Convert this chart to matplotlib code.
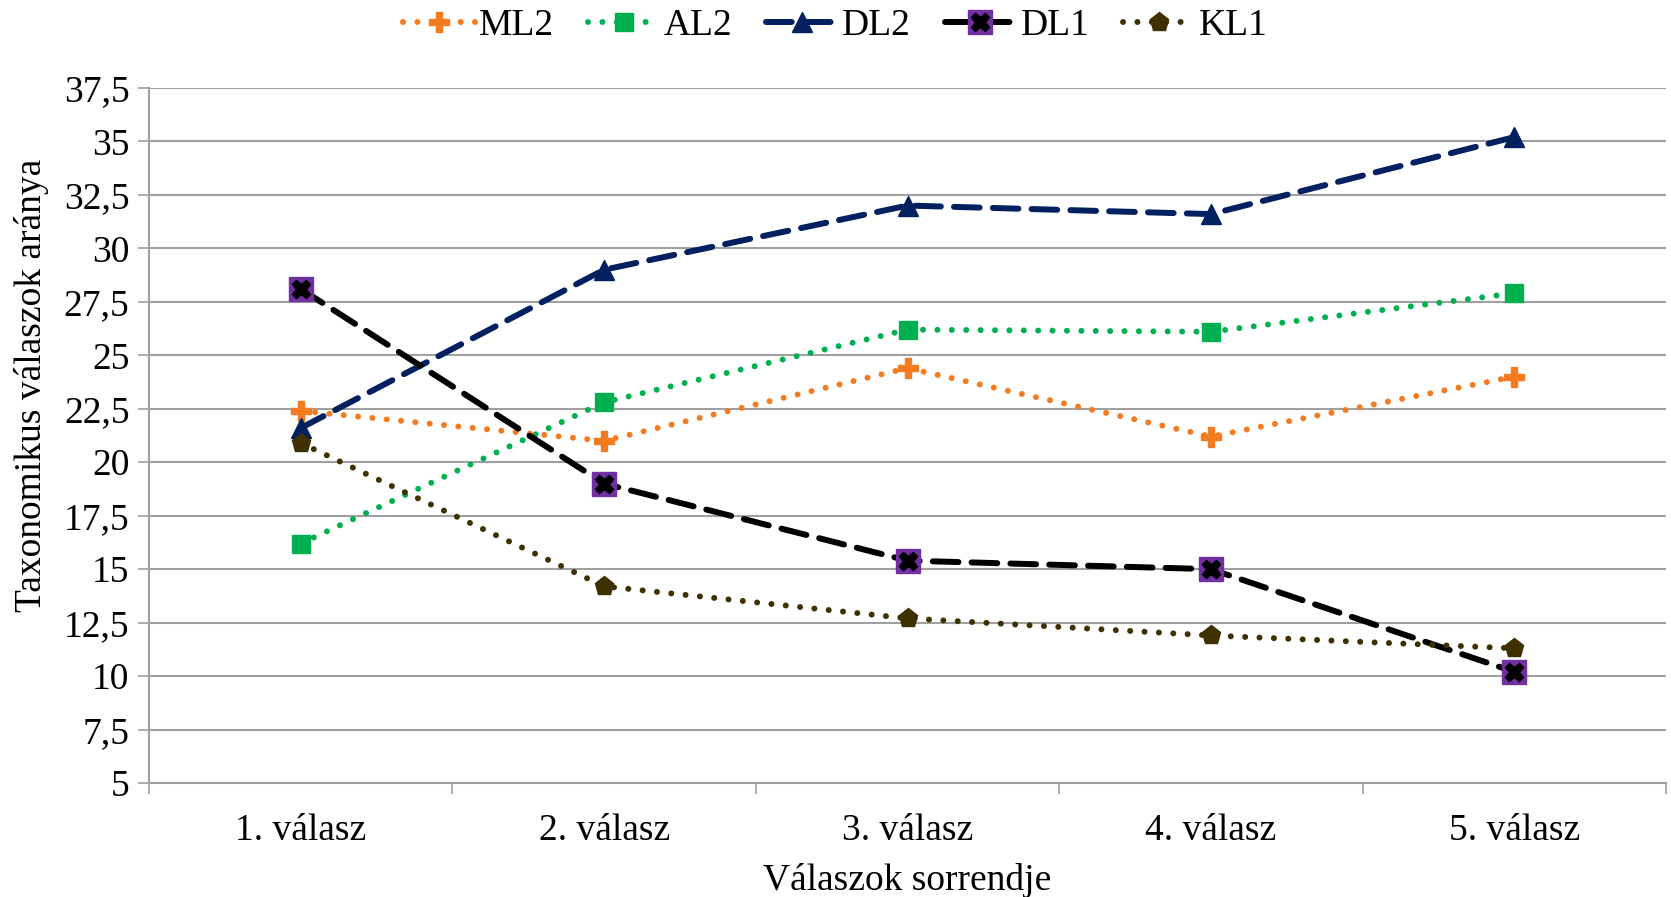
import numpy as np
import matplotlib
matplotlib.use("Agg")
import matplotlib.pyplot as plt
from matplotlib.ticker import FuncFormatter, FixedLocator
from matplotlib.lines import Line2D

# Adatok
categories = ["1. válasz", "2. válasz", "3. válasz", "4. válasz", "5. válasz"]
ml2 = [22.4, 21.0, 24.4, 21.2, 24.0]
al2 = [16.2, 22.8, 26.2, 26.1, 27.9]
dl2 = [21.6, 29.0, 32.0, 31.6, 35.2]
dl1 = [28.1, 19.0, 15.4, 15.0, 10.2]
kl1 = [20.9, 14.2, 12.7, 11.9, 11.3]

plt.rcParams["font.family"] = ["Liberation Serif", "DejaVu Serif"]
FS = 27

fig = plt.figure(figsize=(16.71, 8.97), dpi=100)
ax = fig.add_axes([0.0892, 0.127, 0.9078, 0.775])

x = np.arange(len(categories))
lw = 4.3
dot = (0, (0.01, 2.4))
dash = (0, (4.3, 2.2))

ax.plot(x, ml2, color="#F47B20", linestyle=dot, dash_capstyle="round",
        lw=lw, marker="P", ms=14, mec="#F47B20", zorder=3)
ax.plot(x, al2, color="#00B050", linestyle=dot, dash_capstyle="round",
        lw=lw, marker="s", ms=13, mec="#00B050", zorder=3)
ax.plot(x, dl2, color="#002060", linestyle=dash, dash_capstyle="round",
        lw=lw, marker="^", ms=15, mec="#002060", zorder=3)
ax.plot(x, dl1, color="black", linestyle=dash, dash_capstyle="round",
        lw=lw, zorder=3)
ax.plot(x, dl1, color="#7030A0", linestyle="none", marker="s", ms=17,
        mec="#7030A0", zorder=4)
ax.plot(x, dl1, color="black", linestyle="none", marker="X", ms=13,
        mec="black", zorder=5)
ax.plot(x, kl1, color="#3F3000", linestyle=dot, dash_capstyle="round",
        lw=lw, marker="p", ms=14, mec="#3F3000", zorder=3)

ax.set_xlim(-0.5, len(categories) - 0.5)
ax.set_ylim(5, 37.5)
yt = np.arange(5, 37.6, 2.5)
ax.set_yticks(yt)
ax.yaxis.set_major_formatter(FuncFormatter(
    lambda v, p: (f"{v:.1f}".replace(".", ",") if v % 1 else f"{int(v)}")))
ax.set_xticks(x)
ax.set_xticklabels(categories)
ax.xaxis.set_minor_locator(FixedLocator(np.arange(-0.5, len(categories), 1)))
ax.tick_params(axis="x", which="major", length=0, labelsize=FS, pad=22)
ax.tick_params(axis="x", which="minor", length=8, width=1.2, color="#A0A0A0")
ax.tick_params(axis="y", length=8, width=1.2, color="#A0A0A0", labelsize=FS, pad=6)

ax.grid(axis="y", color="#A0A0A0", lw=1.5)
ax.set_axisbelow(True)
for s in ["top", "right"]:
    ax.spines[s].set_visible(False)
for s in ["left", "bottom"]:
    ax.spines[s].set_color("#A0A0A0")
    ax.spines[s].set_linewidth(1.5)

ax.set_xlabel("Válaszok sorrendje", fontsize=FS, labelpad=11)
ax.set_ylabel("Taxonomikus válaszok aránya", fontsize=FS)
ax.yaxis.set_label_coords(-0.066, 0.572)

# Jelmagyarázat
handles = [
    Line2D([], [], color="#F47B20", linestyle=dot, dash_capstyle="round",
           lw=lw, marker="P", ms=14),
    Line2D([], [], color="#00B050", linestyle=dot, dash_capstyle="round",
           lw=lw, marker="s", ms=13),
    Line2D([], [], color="#002060", linestyle=dash, dash_capstyle="round",
           lw=lw, marker="^", ms=15),
    (Line2D([], [], color="black", linestyle=dash, dash_capstyle="round", lw=lw),
     Line2D([], [], color="#7030A0", linestyle="none", marker="s", ms=17),
     Line2D([], [], color="black", linestyle="none", marker="X", ms=13)),
    Line2D([], [], color="#3F3000", linestyle=dot, dash_capstyle="round",
           lw=lw, marker="p", ms=14),
]
fig.legend(handles, ["ML2", "AL2", "DL2", "DL1", "KL1"], loc="upper center",
           bbox_to_anchor=(0.5, 1.028), ncol=5, frameon=False, fontsize=FS,
           handlelength=1.9, handletextpad=0.12, columnspacing=0.9)

fig.savefig("out.png", dpi=100)
